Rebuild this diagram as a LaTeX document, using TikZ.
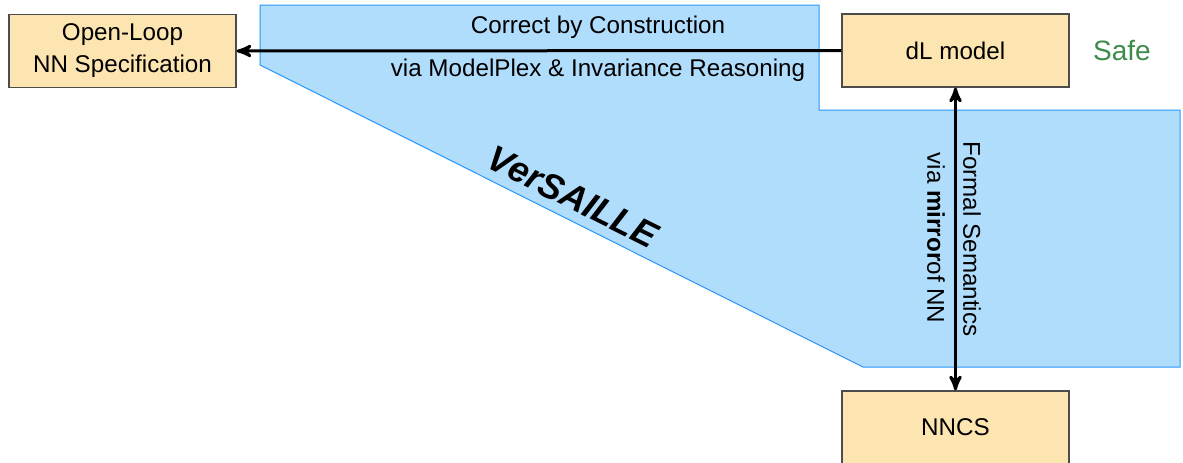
\documentclass[tikz,border=0pt]{standalone}
\usepackage{fontspec}
\setmainfont{Liberation Sans}
\usetikzlibrary{arrows}
\definecolor{boxfill}{RGB}{253,229,178}
\definecolor{regionfill}{RGB}{177,221,253}
\definecolor{regionline}{RGB}{40,150,250}
\definecolor{safegreen}{RGB}{61,139,74}

\begin{document}
\begin{tikzpicture}[x=0.5pt,y=-0.5pt,
    box/.style={draw=black!70,fill=boxfill,line width=0.6pt,
      minimum width=113.5pt,minimum height=36.5pt,align=center,
      font=\fontsize{12.1}{16}\selectfont},
    lbl/.style={font=\fontsize{12.1}{16}\selectfont,inner sep=0pt},
    link/.style={line width=1.5pt,>=stealth'}]
  \useasboundingbox (0,0) rectangle (1183,462);
  \clip (0,0) rectangle (1183,462);
 % the region covered by the tool
  \filldraw[fill=regionfill,draw=regionline,line width=0.5pt]
    ( 260,   5) -- ( 819,   5) -- ( 819, 110) -- (1180, 110) --
    (1180, 367) -- ( 863, 367) -- ( 260,  65) -- cycle;
 %
  \node[box] (spec) at ( 122.5,  51) {Open-Loop\\NN Specification};
  \node[box] (dl)   at ( 955.5,  50.5) {dL model};
  \node[box] (nncs) at ( 955.5, 427.5) {NNCS};
  \node[lbl,text=safegreen,font=\fontsize{14}{16}\selectfont] (safe) at (1122, 50) {Safe};
 %
  \draw[link,->]  (dl.west)  -- (spec.east);
  \draw[link,<->] (dl.south) -- (nncs.north);
 %
  \node[lbl] (cbc)  at ( 598,  27) {Correct by Construction};
  \node[lbl] (mplx) at ( 598,  70) {via ModelPlex \& Invariance Reasoning};
  \node[lbl,rotate=-90] (sem) at ( 972, 239) {Formal Semantics};
  \node[lbl,rotate=-90] (mir) at ( 936, 238) {via \textbf{mirror}of NN};
  \node[inner sep=0pt,rotate=-26.57,
        font=\fontsize{18}{20}\selectfont\bfseries\itshape] (vs) at (573, 197) {VerSAILLE};
\end{tikzpicture}
\end{document}
